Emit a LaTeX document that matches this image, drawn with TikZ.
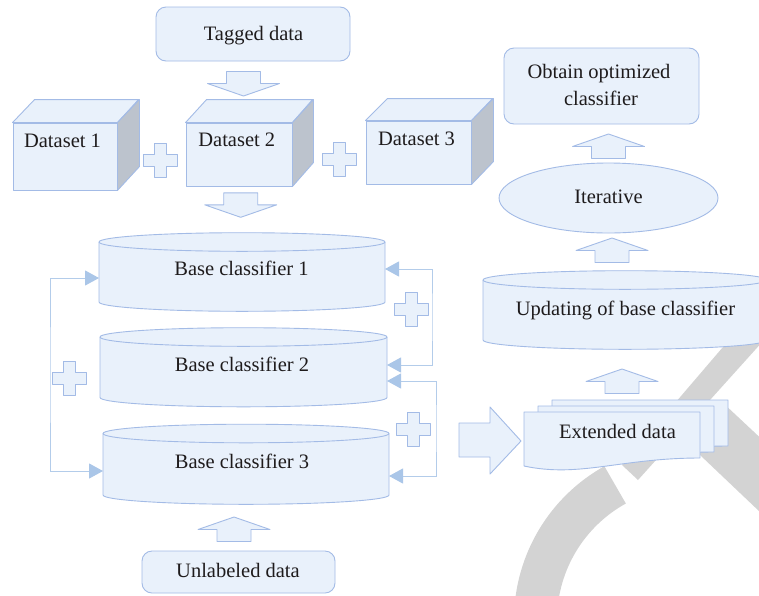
\documentclass[tikz,border=0pt]{standalone}
\usepackage{fontspec}
\setmainfont{Liberation Serif}
\usetikzlibrary{arrows.meta,shapes.geometric}
\definecolor{boxfill}{HTML}{E9F1FB}
\definecolor{boxline}{HTML}{A3BBE6}
\definecolor{fbline}{HTML}{B3CCEA}
\definecolor{tipfill}{HTML}{AAC6E8}
\definecolor{sideface}{HTML}{BCC3CD}
\definecolor{wmgray}{HTML}{D3D3D3}
\definecolor{ink}{HTML}{1E1B1C}
\tikzset{
  shp/.style={draw=boxline, fill=boxfill, line width=0.9pt, line join=round},
  txt/.style={font=\fontsize{20.5}{27}\selectfont, text=ink, inner sep=0pt, anchor=base},
  anch/.style={rectangle, draw=none, fill=none, inner sep=0pt, outer sep=0pt},
  rbox/.style={shp, rectangle, rounded corners=10pt, inner sep=0pt},
  cubefront/.style={shp, rectangle, inner sep=0pt},
  fbl/.style={draw=fbline, line width=1pt, <->, >={Triangle[length=14pt,width=15pt,color=tipfill]}},
  pics/blkarrow/.style={code={
    \draw[shp] (0,0) -- (36,12.5) -- (17,12.5) -- (17,24.5) -- (-17,24.5) -- (-17,12.5) -- (-36,12.5) -- cycle;}},
  pics/plussign/.style={code={
    \draw[shp] (-6,-17) -- (6,-17) -- (6,-6) -- (17,-6) -- (17,6) -- (6,6) -- (6,17) -- (-6,17) -- (-6,6) -- (-17,6) -- (-17,-6) -- (-6,-6) -- cycle;}},
  pics/cyl/.style 2 args={code={
    \draw[shp] (-#1/2,0) -- (-#1/2,#2) arc[start angle=180,end angle=0,x radius=#1/2,y radius=9.3] -- (#1/2,0) arc[start angle=0,end angle=-180,x radius=#1/2,y radius=9.3] -- cycle;
    \draw[shp,fill=none] (-#1/2,0) arc[start angle=180,end angle=0,x radius=#1/2,y radius=9.3];}},
  pics/docpage/.style={code={
    \draw[shp] (0,0) -- (176,0) -- (176,46) .. controls (96,46) and (56,66) .. (0,54) -- cycle;}}
}
\begin{document}
\begin{tikzpicture}[x=1pt,y=-1pt]
\path[use as bounding box] (0,0) rectangle (759,595);
\fill[white] (0,0) rectangle (759,595);
\clip (0,0) rectangle (759,595);
% watermark
\fill[wmgray] (638,480) -- (622,465) -- (806,250) -- (845,250) -- cycle;
\fill[wmgray] (680,420) -- (722,402) -- (800,475) -- (800,550) -- (680,436) -- cycle;
\draw[wmgray, line width=43pt] (690,620) ++(241:154.5) arc[start angle=241, end angle=140, radius=154.5];
% tagged data
\node[rbox, minimum width=194pt, minimum height=54pt] (tagged) at (253,34) {};
\node[txt] (taggedt) at (253.5,40) {Tagged data};
\pic[rotate=180] at (243.5,96) {blkarrow};
% datasets
\node[cubefront, minimum width=104pt, minimum height=67pt] (d1) at (65,156.5) {};
\draw[shp] (d1.north west) -- ++(22,-23) -- ++(104,0) -- (d1.north east) -- cycle;
\draw[shp, fill=sideface] (d1.north east) -- ++(22,-23) -- ++(0,67) -- (d1.south east) -- cycle;
\node[txt] (d1t) at (62.5,147) {Dataset 1};
\node[cubefront, minimum width=106pt, minimum height=63pt] (d2) at (239,154.5) {};
\draw[shp] (d2.north west) -- ++(21,-23) -- ++(106,0) -- (d2.north east) -- cycle;
\draw[shp, fill=sideface] (d2.north east) -- ++(21,-23) -- ++(0,63) -- (d2.south east) -- cycle;
\node[txt] (d2t) at (236.8,146.7) {Dataset 2};
\node[cubefront, minimum width=105pt, minimum height=63pt] (d3) at (418.5,152.5) {};
\draw[shp] (d3.north west) -- ++(22,-22) -- ++(105,0) -- (d3.north east) -- cycle;
\draw[shp, fill=sideface] (d3.north east) -- ++(22,-22) -- ++(0,63) -- (d3.south east) -- cycle;
\node[txt] (d3t) at (416.5,145.7) {Dataset 3};
\pic at (160.5,160) {plussign};
\pic at (339,159) {plussign};
\pic[rotate=180] at (240.7,217.3) {blkarrow};
% base classifiers
\node[anch, minimum width=286pt, minimum height=60pt] (b1) at (242,272) {};
\pic at (b1.north) {cyl={286}{60}};
\node[txt] (b1t) at (241.5,275.7) {Base classifier 1};
\node[anch, minimum width=287pt, minimum height=60.5pt] (b2) at (243.5,367.25) {};
\pic at (b2.north) {cyl={287}{60.5}};
\node[txt] (b2t) at (242,371.7) {Base classifier 2};
\node[anch, minimum width=286pt, minimum height=61.5pt] (b3) at (246,464.25) {};
\pic at (b3.north) {cyl={286}{61.5}};
\node[txt] (b3t) at (242,468.3) {Base classifier 3};
% feedback connectors
\coordinate (lf) at (50,375);
\draw[fbl] (b1.west |- 0,278) -| (lf) |- (b3.west |- 0,471);
\coordinate (r1) at (432,317);
\draw[fbl] (b1.east |- 0,269) -| (r1) |- (b2.east |- 0,365);
\coordinate (r2) at (436,428);
\draw[fbl] (b2.east |- 0,381) -| (r2) |- (b3.east |- 0,476);
\pic at (69.5,378) {plussign};
\pic at (411,309.5) {plussign};
\pic at (413,429) {plussign};
% unlabeled
\pic at (234,517) {blkarrow};
\node[rbox, minimum width=193pt, minimum height=42pt] (unl) at (238.5,572) {};
\node[txt] (unlt) at (238,577.3) {Unlabeled data};
% right side
\draw[shp] (459,423) -- (490,423) -- (490,407) -- (521,441) -- (490,474) -- (490,457) -- (459,457) -- cycle;
\pic at (552,400) {docpage};
\pic at (538,406) {docpage};
\pic at (524,412) {docpage};
\node[anch, minimum width=176pt, minimum height=50pt] (ext) at (612,437) {};
\node[txt] (extt) at (617.5,438.3) {Extended data};
\pic at (622,369) {blkarrow};
\node[anch, minimum width=284pt, minimum height=60pt] (upd) at (625,310) {};
\pic at (upd.north) {cyl={284}{60}};
\node[txt] (updt) at (625.5,315) {Updating of base classifier};
\pic at (612,238) {blkarrow};
\node[shp, ellipse, minimum width=219pt, minimum height=70pt, inner sep=0pt] (iter) at (608.5,198) {};
\node[txt] (itert) at (608.5,203) {Iterative};
\pic at (608.5,134) {blkarrow};
\node[rbox, minimum width=195pt, minimum height=76pt] (obt) at (601.5,86) {};
\node[txt] (obt1) at (599,78) {Obtain optimized};
\node[txt] (obt2) at (601,105.7) {classifier};
\end{tikzpicture}
\end{document}
